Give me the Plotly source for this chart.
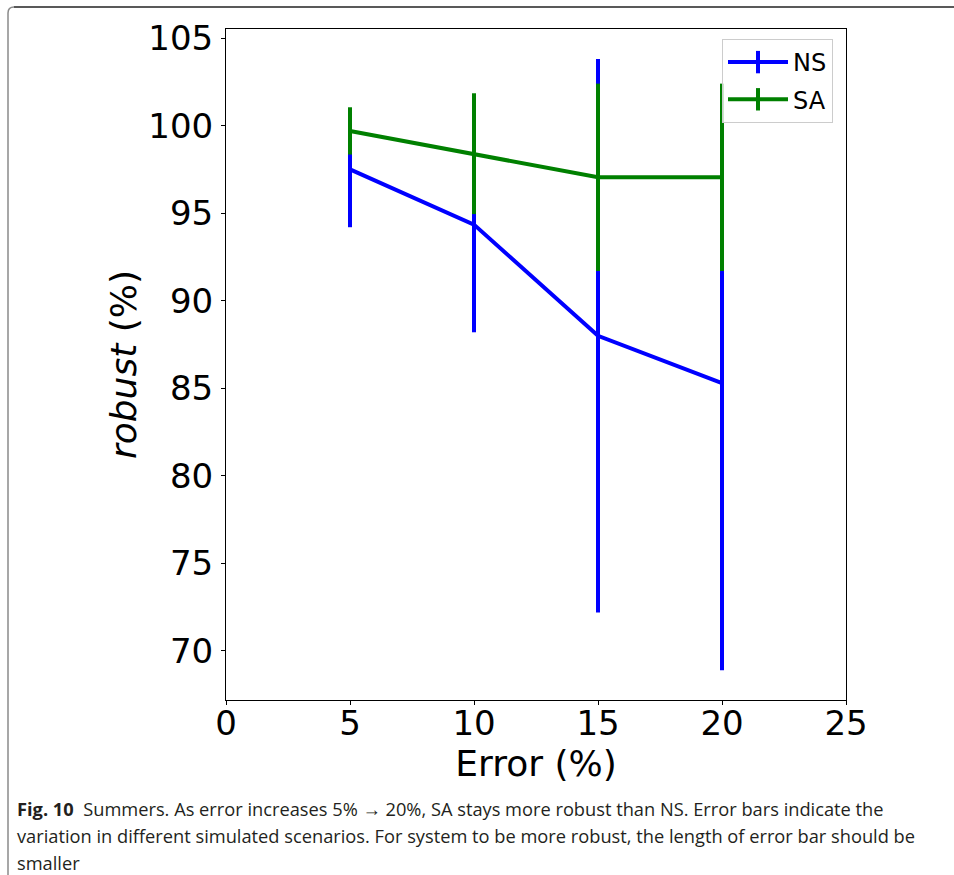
import plotly.graph_objects as go

# ---- data ----
error_pct = [5, 10, 15, 20]
ns_robust = [97.5, 94.35, 88.0, 85.3]
ns_err = [3.3, 6.15, 15.8, 16.4]
sa_robust = [99.7, 98.4, 97.05, 97.05]
sa_err = [1.35, 3.45, 5.35, 5.35]

x_ticks = [0, 5, 10, 15, 20, 25]
y_ticks = [70, 75, 80, 85, 90, 95, 100, 105]

caption_lines = [
    "<b>Fig. 10</b>  Summers. As error increases 5% \u2192 20%, SA stays more robust than NS. Error bars indicate the",
    "variation in different simulated scenarios. For system to be more robust, the length of error bar should be",
    "smaller",
]

BLUE = "#0000ff"
GREEN = "#008000"

W, H = 954, 875
L, R, T, B = 226, 846, 29, 700


def px(x):
    return (x - L) / (R - L)


def py(y):
    return (B - y) / (B - T)


fig = go.Figure()

for name, yv, ev, col in [("NS", ns_robust, ns_err, BLUE), ("SA", sa_robust, sa_err, GREEN)]:
    fig.add_trace(go.Scatter(
        x=error_pct, y=yv, mode="lines", name=name, showlegend=False,
        line=dict(color=col, width=4),
        error_y=dict(type="data", array=ev, symmetric=True, color=col, thickness=4, width=0),
    ))

for name, col in [("NS", BLUE), ("SA", GREEN)]:
    fig.add_trace(go.Scatter(
        x=[None], y=[None], mode="lines+markers", name=name, legendgroup=name,
        line=dict(color=col, width=4),
        marker=dict(symbol="line-ns", size=16, line=dict(color=col, width=4), color=col),
    ))

axis_common = dict(
    showline=True, linecolor="black", linewidth=1, mirror=True,
    ticks="outside", ticklen=4, tickwidth=1, tickcolor="black",
    showgrid=False, zeroline=False,
    tickfont=dict(family="DejaVu Sans", size=34, color="black"),
)

fig.update_xaxes(
    range=[0, 25], tickvals=x_ticks, ticktext=[str(v) for v in x_ticks],
    ticklabelstandoff=-11,
    title=dict(text="Error (%)", font=dict(family="DejaVu Sans", size=36, color="black"), standoff=9),
    **axis_common,
)
fig.update_yaxes(
    range=[67.2, 105.52], tickvals=y_ticks, ticktext=[str(v) for v in y_ticks],
    ticklabelstandoff=1,
    title=dict(text="<i>robust</i> (%)", font=dict(family="DejaVu Sans", size=36, color="black"), standoff=0),
    **axis_common,
)

# caption
for i, line in enumerate(caption_lines):
    fig.add_annotation(
        text=line, xref="paper", yref="paper", x=px(15), y=py(808 + 27 * i),
        xanchor="left", yanchor="middle", showarrow=False, align="left",
        font=dict(family="Open Sans", size=18.25, color="#231f20"),
    )

# page frame (top and left rules with rounded corner)
fig.add_shape(type="path", xref="paper", yref="paper",
              path=f"M {px(8)},{py(875)} L {px(8)},{py(13)} Q {px(8)},{py(7)} {px(14)},{py(7)}",
              line=dict(color="#8a8a8a", width=1.5))
fig.add_shape(type="line", xref="paper", yref="paper",
              x0=px(14), y0=py(7), x1=px(954), y1=py(7),
              line=dict(color="#222222", width=1.5))

fig.update_layout(
    width=W, height=H, autosize=False,
    margin=dict(l=L, r=W - R, t=T, b=H - B),
    plot_bgcolor="white", paper_bgcolor="white",
    showlegend=True,
    legend=dict(
        x=px(833), y=py(39), xanchor="right", yanchor="top",
        bgcolor="rgba(255,255,255,0.8)", bordercolor="#cccccc", borderwidth=1,
        font=dict(family="DejaVu Sans", size=24, color="black"),
        traceorder="grouped", tracegroupgap=3, itemwidth=60,
    ),
)

fig.write_html("out.html", config={"displayModeBar": False},
               post_script="document.body.style.margin='0px';document.body.style.overflow='hidden';")
